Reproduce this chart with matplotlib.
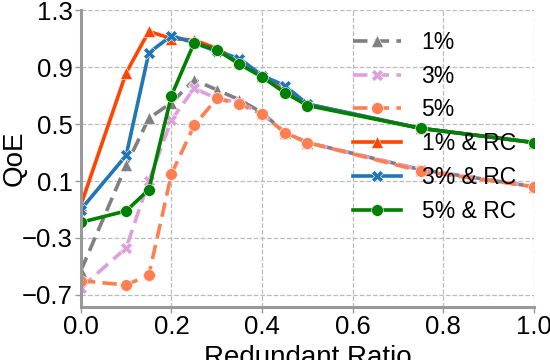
import matplotlib
matplotlib.use("Agg")
import matplotlib.pyplot as plt

plt.rcParams['font.family'] = ['Liberation Sans', 'DejaVu Sans']

x = [0.0, 0.1, 0.15, 0.2, 0.25, 0.3, 0.35, 0.4, 0.45, 0.5, 0.75, 1.0]
labels = ['1%', '3%', '5%', '1% & RC', '3% & RC', '5% & RC']
qoe_1 = [-0.53, 0.21, 0.54, 0.65, 0.81, 0.74, 0.67, 0.58, 0.44, 0.37, 0.18, 0.06]
qoe_3 = [-0.65, -0.37, 0.10, 0.53, 0.75, 0.68, 0.65, 0.57, 0.44, 0.37, 0.18, 0.06]
qoe_5 = [-0.60, -0.63, -0.56, 0.15, 0.49, 0.68, 0.64, 0.57, 0.44, 0.37, 0.17, 0.06]
qoe_1rc = [-0.07, 0.86, 1.15, 1.10, 1.09, 1.03, 0.94, 0.84, 0.73, 0.64, 0.47, 0.37]
qoe_3rc = [-0.10, 0.28, 1.00, 1.12, 1.07, 1.01, 0.96, 0.84, 0.77, 0.64, 0.47, 0.37]
qoe_5rc = [-0.19, -0.11, 0.04, 0.70, 1.07, 1.02, 0.92, 0.83, 0.72, 0.63, 0.47, 0.37]

series = [qoe_1, qoe_3, qoe_5, qoe_1rc, qoe_3rc, qoe_5rc]
colors = ['#808080', '#DDA0DD', '#FF7F50', '#FF4500', '#1f77b4', '#008000']
markers = ['^', 'X', 'o', '^', 'X', 'o']
styles = ['--', '--', '--', '-', '-', '-']

fig = plt.figure(figsize=(5.5, 3.6), dpi=100)
ax = fig.add_axes([0.147, 0.147, 0.824, 0.825])

for y, lab, c, m, ls in zip(series, labels, colors, markers, styles):
    ax.plot(x, y, linestyle=ls, color=c, marker=m, markersize=8.5, linewidth=2.6,
            markeredgecolor='white', markeredgewidth=0.4, label=lab,
            dashes=(4, 2) if ls == '--' else (None, None))

ax.set_xlim(0, 1.0)
ax.set_ylim(-0.785, 1.3)
ax.set_xticks([0.0, 0.2, 0.4, 0.6, 0.8, 1.0])
ax.set_yticks([-0.7, -0.3, 0.1, 0.5, 0.9, 1.3])
ax.set_xticklabels(['0.0', '0.2', '0.4', '0.6', '0.8', '1.0'])
ax.set_yticklabels(['\u22120.7', '\u22120.3', '0.1', '0.5', '0.9', '1.3'])
ax.grid(True, linestyle='--', color='#bbbbbb', linewidth=0.9)
ax.set_axisbelow(True)
for s in ['top', 'right']:
    ax.spines[s].set_visible(False)
for s in ['left', 'bottom']:
    ax.spines[s].set_color('#999999')
    ax.spines[s].set_linewidth(2.2)
ax.tick_params(colors='#999999', labelcolor='black', labelsize=18.5, length=4, width=1, pad=2)
ax.set_xlabel('Redundant Ratio', fontsize=20, labelpad=4)
ax.set_ylabel('QoE', fontsize=20)
ax.yaxis.set_label_coords(-0.118, 0.5)

leg = ax.legend(loc='upper left', bbox_to_anchor=(0.6, 0.93), frameon=False,
                fontsize=16.5, handlelength=2.1, handletextpad=0.9, labelspacing=0.47,
                borderaxespad=0, borderpad=0)

fig.savefig('out.png', dpi=100)
